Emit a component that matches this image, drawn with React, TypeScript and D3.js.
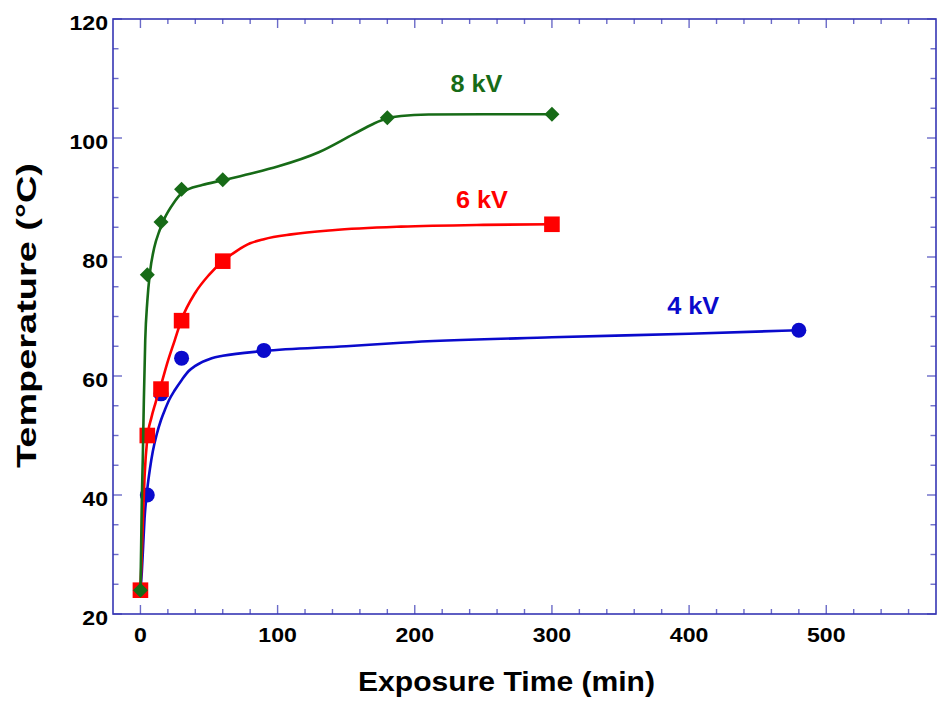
import * as d3 from "d3"
import React from "react"

// measured points (min, °C)
const pts4kV: [number, number][] = [[0, 24], [5, 40], [15, 57], [30, 63], [90, 64.3], [480, 67.7]]
const pts6kV: [number, number][] = [[0, 24], [5, 50], [15, 57.8], [30, 69.3], [60, 79.3], [300, 85.5]]
const pts8kV: [number, number][] = [[0, 24], [5, 77], [15, 85.9], [30, 91.4], [60, 93], [180, 103.4], [300, 104]]

// fitted curves
const fit4kV: [number, number][] = [[0, 24], [1, 27], [2, 31.5], [3, 36], [5, 41], [7, 44.5], [9, 47.3], [12, 50.3], [15, 52.6], [18, 54.4], [21, 56], [25, 57.6], [30, 59.3], [35, 60.8], [40, 61.7], [52, 63], [60, 63.4], [90, 64.2], [150, 65], [190, 65.6], [300, 66.5], [400, 67.1], [480, 67.7]]
const fit6kV: [number, number][] = [[0, 24], [1, 30], [2, 37], [3, 43], [5, 49.5], [8, 53], [11, 55.5], [15, 58.5], [20, 62.5], [25, 66], [30, 69.5], [40, 74], [50, 77], [60, 79.3], [70, 81], [80, 82.3], [90, 83], [110, 83.8], [140, 84.5], [190, 85.1], [250, 85.4], [300, 85.5]]
const fit8kV: [number, number][] = [[0, 24], [0.5, 31], [1, 39], [1.7, 46], [2.5, 56], [3.5, 66], [5, 72.5], [7, 77.5], [10, 81.5], [14, 84.5], [18, 86.7], [24, 89], [30, 90.7], [35, 91.4], [45, 92.1], [60, 92.9], [80, 94], [100, 95.2], [130, 97.6], [155, 100.6], [170, 102.4], [180, 103.3], [190, 103.7], [210, 103.95], [250, 104], [300, 104]]

const seriesNames = ["4 kV", "6 kV", "8 kV"]
const seriesColors = ["#0a0acc", "#ff0000", "#176b17"]
const seriesShapes = ["circle", "square", "diamond"]
const seriesPoints = [pts4kV, pts6kV, pts8kV]
const seriesFits = [fit4kV, fit6kV, fit8kV]
// label anchors in data units (left edge, baseline)
const labelAt: [number, number][] = [[384, 70.5], [230, 88.3], [226, 107.7]]

const xMajor = [0, 100, 200, 300, 400, 500]
const yMajor = [20, 40, 60, 80, 100, 120]

const W = 942
const H = 703
const left = 113, right = 936, top = 19, bottom = 614
const frameColor = "#3636b4"
const tickColor = "#6b6bc8"
const font = "'Liberation Sans', Arial, sans-serif"

export default function App() {
  const x = d3.scaleLinear().domain([-20, 580]).range([left, right])
  const y = d3.scaleLinear().domain([20, 120]).range([bottom, top])
  const xMinor = d3.range(0, 580, 20).filter(v => !xMajor.includes(v))
  const yMinor = d3.range(20, 121, 5).filter(v => !yMajor.includes(v))
  const line = d3.line<[number, number]>()
    .x(d => x(d[0]))
    .y(d => y(d[1]))
    .curve(d3.curveMonotoneX)

  const marker = (shape: string, cx: number, cy: number, color: string, key: string) => {
    if (shape === "circle") return <circle key={key} cx={cx} cy={cy} r={7.5} fill={color} />
    if (shape === "square") return <rect key={key} x={cx - 7.8} y={cy - 7.8} width={15.6} height={15.6} fill={color} />
    const r = 7.5
    return <path key={key} d={`M${cx},${cy - r}L${cx + r},${cy}L${cx},${cy + r}L${cx - r},${cy}Z`} fill={color} />
  }

  return (
    <svg width={W} height={H} style={{ position: "absolute", left: 0, top: 0, background: "#fff" }}>
      <rect width={W} height={H} fill="#fff" />
      {/* ticks on all four sides, pointing in */}
      <g stroke={tickColor} strokeWidth={1.4}>
        {xMajor.map(v => (
          <g key={"xM" + v}>
            <line x1={x(v)} x2={x(v)} y1={bottom} y2={bottom - 9} />
            <line x1={x(v)} x2={x(v)} y1={top} y2={top + 9} />
          </g>
        ))}
        {xMinor.map(v => (
          <g key={"xm" + v}>
            <line x1={x(v)} x2={x(v)} y1={bottom} y2={bottom - 5} />
            <line x1={x(v)} x2={x(v)} y1={top} y2={top + 5} />
          </g>
        ))}
        {yMajor.map(v => (
          <g key={"yM" + v}>
            <line x1={left} x2={left + 9} y1={y(v)} y2={y(v)} />
            <line x1={right} x2={right - 9} y1={y(v)} y2={y(v)} />
          </g>
        ))}
        {yMinor.map(v => (
          <g key={"ym" + v}>
            <line x1={left} x2={left + 5.5} y1={y(v)} y2={y(v)} />
            <line x1={right} x2={right - 5.5} y1={y(v)} y2={y(v)} />
          </g>
        ))}
      </g>
      <rect x={left} y={top} width={right - left} height={bottom - top} fill="none" stroke={frameColor} strokeWidth={1.6} />

      {/* tick labels */}
      <g fontFamily={font} fontWeight="bold" fontSize={21} fill="#000">
        {xMajor.map(v => (
          <text key={"xl" + v} transform={`translate(${x(v)},${bottom + 28}) scale(1.1,1)`} textAnchor="middle">{v}</text>
        ))}
        {yMajor.map(v => (
          <text key={"yl" + v} transform={`translate(${left - 5},${y(v) + 10.5}) scale(1.1,1)`} textAnchor="end">{v}</text>
        ))}
      </g>

      {/* curves and markers */}
      {seriesNames.map((name, i) => (
        <g key={name}>
          <path d={line(seriesFits[i]) || ""} fill="none" stroke={seriesColors[i]} strokeWidth={2.6} />
          {seriesPoints[i].map((p, j) => marker(seriesShapes[i], x(p[0]), y(p[1]), seriesColors[i], name + j))}
        </g>
      ))}
      {seriesNames.map((name, i) => (
        <text key={"lab" + name} x={x(labelAt[i][0])} y={y(labelAt[i][1])} fontFamily={font} fontWeight="bold"
          fontSize={23} fill={seriesColors[i]} textLength={52} lengthAdjust="spacingAndGlyphs">{name}</text>
      ))}

      {/* axis titles */}
      <text x={506.5} y={691} textAnchor="middle" fontFamily={font} fontWeight="bold" fontSize={27}
        textLength={297} lengthAdjust="spacingAndGlyphs">Exposure Time (min)</text>
      <text transform={`translate(36,315.5) rotate(-90)`} textAnchor="middle" fontFamily={font} fontWeight="bold"
        fontSize={28} textLength={305} lengthAdjust="spacingAndGlyphs">Temperature (°C)</text>
    </svg>
  )
}
